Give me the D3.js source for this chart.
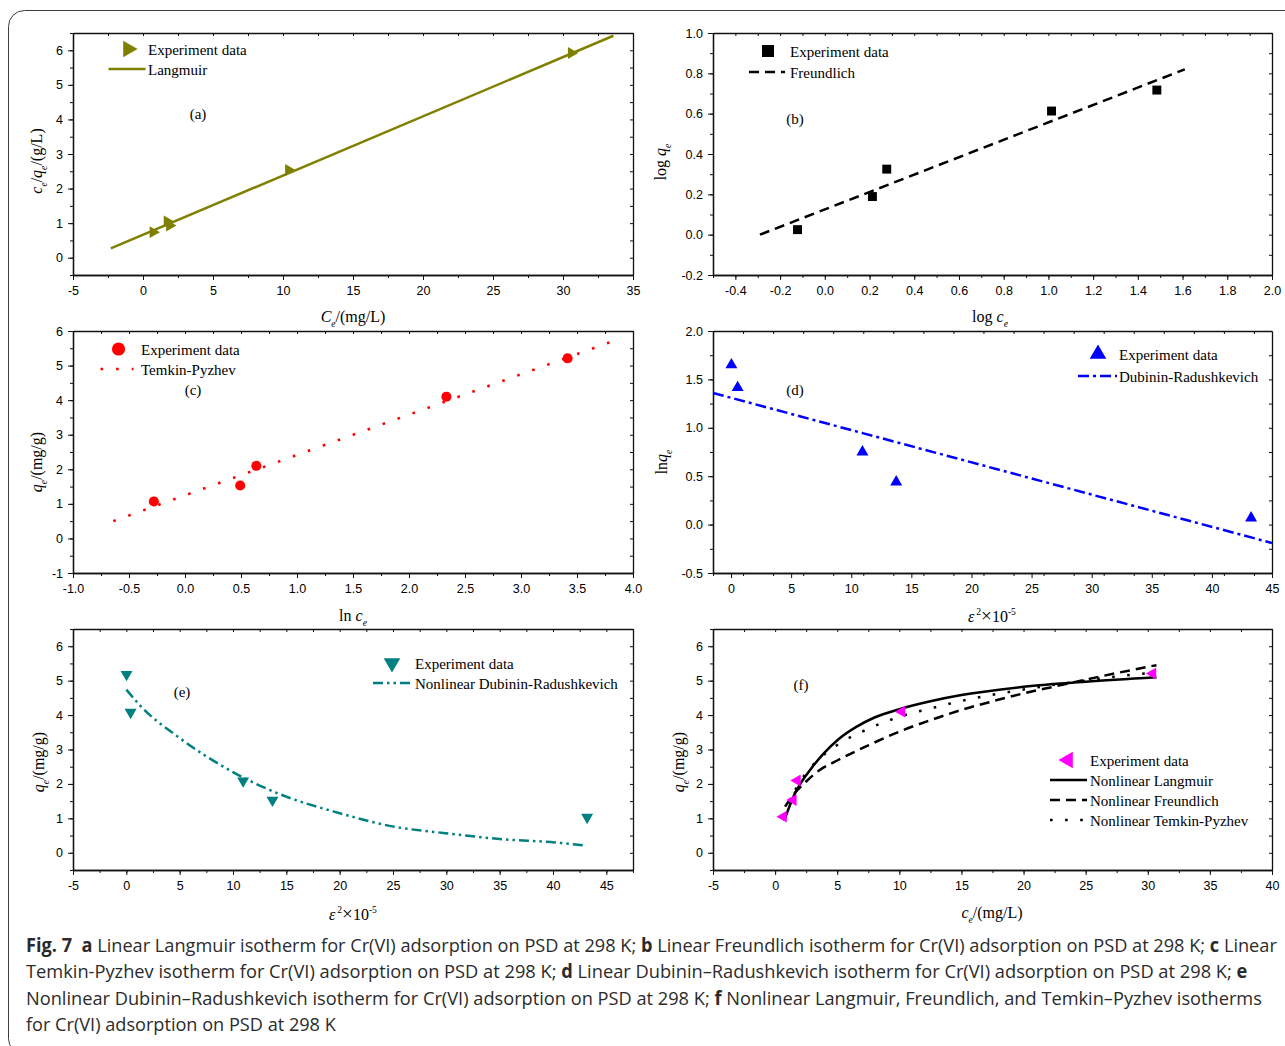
<!DOCTYPE html>
<html lang="en">
<head>
<meta charset="utf-8">
<title>Fig. 7 isotherms</title>
<script src="https://d3js.org/d3.v7.min.js"></script>
<style>
  body { margin: 0; background: #fff; }
</style>
</head>
<body>
<script>
// ---- data ----
// (a) linear Langmuir: ce vs ce/qe
const aCe = [0.72, 1.73, 1.9, 10.4, 30.6];
const aRatio = [0.74, 1.05, 0.93, 2.54, 5.92];
const aFitX = [-2.3, 33.6];
const aFitY = [0.27, 6.42];
const aXTicks = [-5, 0, 5, 10, 15, 20, 25, 30, 35];
const aYTicks = [0, 1, 2, 3, 4, 5, 6];

// (b) linear Freundlich: log ce vs log qe
const bLogCe = [-0.122, 0.213, 0.277, 1.014, 1.485];
const bLogQe = [0.025, 0.189, 0.325, 0.613, 0.717];
const bFitX = [-0.29, 1.61];
const bFitY = [0.0, 0.82];
const bXTicks = [-0.4, -0.2, 0.0, 0.2, 0.4, 0.6, 0.8, 1.0, 1.2, 1.4, 1.6, 1.8, 2.0];
const bYTicks = [-0.2, 0.0, 0.2, 0.4, 0.6, 0.8, 1.0];

// (c) linear Temkin-Pyzhev: ln ce vs qe
const cLnCe = [-0.278, 0.493, 0.637, 2.334, 3.416];
const cQe = [1.07, 1.53, 2.10, 4.10, 5.21];
const cFitX = [-0.64, 3.79];
const cFitY = [0.5, 5.67];
const cXTicks = [-1.0, -0.5, 0.0, 0.5, 1.0, 1.5, 2.0, 2.5, 3.0, 3.5, 4.0];
const cYTicks = [-1, 0, 1, 2, 3, 4, 5, 6];

// (d) linear Dubinin-Radushkevich: eps^2 vs ln qe
const dEps = [0.03, 0.55, 10.93, 13.74, 43.26];
const dLnQe = [1.65, 1.415, 0.75, 0.44, 0.068];
const dFitX = [-1.5, 45];
const dFitY = [1.36, -0.19];
const dXTicks = [0, 5, 10, 15, 20, 25, 30, 35, 40, 45];
const dYTicks = [-0.5, 0.0, 0.5, 1.0, 1.5, 2.0];

// (e) nonlinear Dubinin-Radushkevich
const eEps = [0.02, 0.4, 10.95, 13.7, 43.2];
const eQe = [5.18, 4.08, 2.09, 1.53, 1.03];
const eFitX = [0, 1.34, 4.84, 9.9, 14.17, 20, 25.07, 29.9, 35, 40.2, 42.8];
const eFitY = [4.74, 4.26, 3.37, 2.36, 1.73, 1.15, 0.76, 0.57, 0.40, 0.30, 0.22];
const eXTicks = [-5, 0, 5, 10, 15, 20, 25, 30, 35, 40, 45];
const eYTicks = [0, 1, 2, 3, 4, 5, 6];

// (f) nonlinear Langmuir, Freundlich, Temkin-Pyzhev
const fCe = [0.66, 1.45, 1.78, 10.2, 30.4];
const fQe = [1.05, 1.53, 2.10, 4.10, 5.21];
const fLangX = [0.72, 1.2, 1.6, 2.2, 2.8, 3.9, 5.1, 6.5, 8, 10, 12.5, 15, 20, 25, 30.7];
const fLangY = [0.93, 1.39, 1.73, 2.1, 2.4, 2.88, 3.3, 3.65, 3.93, 4.17, 4.4, 4.58, 4.82, 4.97, 5.1];
const fFreuX = [0.8, 1.5, 2.5, 3.5, 5, 7.5, 10, 12.5, 15, 17.5, 20, 22.5, 25, 27.5, 30.7];
const fFreuY = [1.34, 1.7, 2.07, 2.38, 2.68, 3.12, 3.52, 3.85, 4.15, 4.4, 4.63, 4.83, 5.03, 5.22, 5.45];
const fTemkX = [0.8, 1.5, 2.5, 3.5, 5, 7.5, 10, 12.5, 15, 17.5, 20, 22.5, 25, 27.5, 30.7];
const fTemkY = [1.0, 1.72, 2.32, 2.71, 3.13, 3.6, 3.95, 4.19, 4.41, 4.59, 4.74, 4.88, 5.0, 5.12, 5.24];
const fXTicks = [-5, 0, 5, 10, 15, 20, 25, 30, 35, 40];
const fYTicks = [0, 1, 2, 3, 4, 5, 6];

const SERIF = "'Liberation Serif', 'Times New Roman', serif";
const SANS = "'Liberation Sans', Arial, sans-serif";

const svg = d3.select("body").append("svg")
    .attr("width", 1285).attr("height", 1046)
    .style("font-family", SERIF);

svg.append("rect")
    .attr("x", 8.5).attr("y", 10.5)
    .attr("width", 1320).attr("height", 1044)
    .attr("rx", 16)
    .attr("fill", "none").attr("stroke", "#3c3c3c").attr("stroke-width", 1);

const fmtInt = d => String(d);
const fmt1 = d => d.toFixed(1);

// text with italic / sub / sup pieces
function rich(t, parts, size) {
    let shift = 0;
    parts.forEach(([s, k]) => {
        const ts = t.append("tspan").text(s);
        let target = 0;
        if (k.includes("sub")) { target = size * 0.32; ts.attr("font-size", size * 0.6); }
        if (k.includes("sup")) { target = -size * 0.42; ts.attr("font-size", size * 0.6); }
        if (k.includes("big")) ts.attr("font-size", size * 1.2);
        if (k.startsWith("i")) ts.attr("font-style", "italic");
        if (target !== shift) { ts.attr("dy", target - shift); shift = target; }
    });
}

function marker(g, kind, cx, cy, size, color) {
    const type = kind === "square" ? d3.symbolSquare
        : kind === "circle" ? d3.symbolCircle : d3.symbolTriangle;
    const rot = { right: 90, down: 180, left: -90, up: 0 }[kind] || 0;
    g.append("path")
        .attr("d", d3.symbol().type(type).size(size)())
        .attr("transform", `translate(${cx},${cy}) rotate(${rot})`)
        .attr("fill", color);
}

function styleAxis(sel) {
    sel.attr("font-family", SANS).attr("font-size", 12.5);
    sel.select(".domain").attr("stroke", "#111").attr("stroke-width", 1.3);
    sel.selectAll(".tick line").attr("stroke", "#111").attr("stroke-width", 1);
    sel.selectAll("text").attr("fill", "#000");
}

function panel(p) {
    const x = d3.scaleLinear().domain(p.xDomain).range(p.xr);
    const y = d3.scaleLinear().domain(p.yDomain).range([p.yr[1], p.yr[0]]);
    const g = svg.append("g");
    const [top, bottom] = p.yr;
    const [left, right] = p.xr;
    const xMinor = d3.range(p.xDomain[0], p.xDomain[1] + 1e-9, p.xMinor);
    const yMinor = d3.range(p.yDomain[0], p.yDomain[1] + 1e-9, p.yMinor);

    // bottom (outward)
    g.append("g").attr("transform", `translate(0,${bottom})`)
        .call(d3.axisBottom(x).tickValues(xMinor).tickSize(3).tickSizeOuter(0).tickFormat(""))
        .call(styleAxis);
    g.append("g").attr("transform", `translate(0,${bottom})`)
        .call(d3.axisBottom(x).tickValues(p.xTicks).tickSize(5).tickPadding(6).tickSizeOuter(0).tickFormat(p.xFmt))
        .call(styleAxis);
    // top (inward)
    g.append("g").attr("transform", `translate(0,${top})`)
        .call(d3.axisBottom(x).tickValues(xMinor).tickSize(3).tickSizeOuter(0).tickFormat(""))
        .call(styleAxis);
    // left (outward)
    g.append("g").attr("transform", `translate(${left},0)`)
        .call(d3.axisLeft(y).tickValues(yMinor).tickSize(3).tickSizeOuter(0).tickFormat(""))
        .call(styleAxis);
    g.append("g").attr("transform", `translate(${left},0)`)
        .call(d3.axisLeft(y).tickValues(p.yTicks).tickSize(5).tickPadding(5).tickSizeOuter(0).tickFormat(p.yFmt))
        .call(styleAxis);
    // right (inward)
    g.append("g").attr("transform", `translate(${right},0)`)
        .call(d3.axisLeft(y).tickValues(yMinor).tickSize(3).tickSizeOuter(0).tickFormat(""))
        .call(styleAxis);

    // fitted lines
    p.lines.forEach(l => {
        g.append("path")
            .datum(d3.zip(l.x, l.y))
            .attr("d", d3.line().x(d => x(d[0])).y(d => y(d[1])).curve(l.curve || d3.curveLinear))
            .attr("fill", "none")
            .attr("stroke", l.color)
            .attr("stroke-width", l.width || 2.5)
            .attr("stroke-dasharray", l.dash || null)
            .attr("stroke-linecap", l.cap || "butt");
    });
    // experiment points
    p.pts.x.forEach((v, i) => marker(g, p.pts.kind, x(v), y(p.pts.y[i]), p.pts.size, p.pts.color));

    // axis titles
    rich(g.append("text").attr("x", p.xTitle.x).attr("y", p.xTitle.y)
        .attr("text-anchor", "middle").attr("font-size", 16), p.xTitle.parts, 16);
    rich(g.append("text")
        .attr("transform", `translate(${p.yTitle.x},${p.yTitle.y}) rotate(-90)`)
        .attr("text-anchor", "middle").attr("font-size", 16), p.yTitle.parts, 16);

    // panel letter
    g.append("text").attr("x", p.tag.x).attr("y", p.tag.y)
        .attr("text-anchor", "middle").attr("font-size", 15).text(p.tag.text);

    // legend
    p.legend.forEach(it => {
        if (it.kind) marker(g, it.kind, it.sx, it.sy, it.size, it.color);
        else g.append("line")
            .attr("x1", it.sx - it.len / 2).attr("x2", it.sx + it.len / 2)
            .attr("y1", it.sy).attr("y2", it.sy)
            .attr("stroke", it.color).attr("stroke-width", 2.5)
            .attr("stroke-dasharray", it.dash || null);
        g.append("text").attr("x", it.tx).attr("y", it.sy + 5.5)
            .attr("font-size", 15).text(it.label);
    });
}

const L = [73, 633], R = [713, 1272];
const ROW1 = [33, 275], ROW2 = [331, 573], ROW3 = [629, 870];

const olive = "#808000", red = "#ff0000", blue = "#0000ff", teal = "#008080", pink = "#ff00ff";
const DASH = "10 6", DOT = "2.6 12.5", DASHDOT = "11 4 3 4", DASHDOTDOT = "10 4 2.5 4 2.5 4";
const epsTitle = [["ε", "i"], ["\u20092", "sup"], ["×", "big"], ["10", ""], ["-5", "sup"]];

panel({
    xr: L, yr: ROW1, xDomain: [-5, 35], yDomain: [-0.5, 6.5], xMinor: 2.5, yMinor: 0.5,
    xTicks: aXTicks, yTicks: aYTicks, xFmt: fmtInt, yFmt: fmtInt,
    lines: [{ x: aFitX, y: aFitY, color: olive }],
    pts: { x: aCe, y: aRatio, kind: "right", size: 62, color: olive },
    xTitle: { x: 353, y: 322, parts: [["C", "i"], ["e", "isub"], ["/(mg/L)", ""]] },
    yTitle: { x: 42, y: 161, parts: [["c", "i"], ["e", "isub"], ["/", ""], ["q", "i"], ["e", "isub"], ["/(g/L)", ""]] },
    tag: { x: 198, y: 119, text: "(a)" },
    legend: [
        { kind: "right", size: 120, color: olive, sx: 128, sy: 49, tx: 148, label: "Experiment data" },
        { len: 37, color: olive, sx: 127, sy: 69, tx: 148, label: "Langmuir" }
    ]
});

panel({
    xr: R, yr: ROW1, xDomain: [-0.5, 2.0], yDomain: [-0.2, 1.0], xMinor: 0.1, yMinor: 0.1,
    xTicks: bXTicks, yTicks: bYTicks, xFmt: fmt1, yFmt: fmt1,
    lines: [{ x: bFitX, y: bFitY, color: "#000", dash: DASH }],
    pts: { x: bLogCe, y: bLogQe, kind: "square", size: 80, color: "#000" },
    xTitle: { x: 990, y: 322, parts: [["log ", ""], ["c", "i"], ["e", "isub"]] },
    yTitle: { x: 666, y: 162, parts: [["log ", ""], ["q", "i"], ["e", "isub"]] },
    tag: { x: 795, y: 124, text: "(b)" },
    legend: [
        { kind: "square", size: 144, color: "#000", sx: 768, sy: 51, tx: 790, label: "Experiment data" },
        { len: 36, color: "#000", dash: DASH, sx: 767, sy: 72, tx: 790, label: "Freundlich" }
    ]
});

panel({
    xr: L, yr: ROW2, xDomain: [-1, 4], yDomain: [-1, 6], xMinor: 0.25, yMinor: 0.5,
    xTicks: cXTicks, yTicks: cYTicks, xFmt: fmt1, yFmt: fmtInt,
    lines: [{ x: cFitX, y: cFitY, color: red, dash: "2.6 13.3", width: 2.6 }],
    pts: { x: cLnCe, y: cQe, kind: "circle", size: 80, color: red },
    xTitle: { x: 353, y: 621, parts: [["ln ", ""], ["c", "i"], ["e", "isub"]] },
    yTitle: { x: 42, y: 462, parts: [["q", "i"], ["e", "isub"], ["/(mg/g)", ""]] },
    tag: { x: 193, y: 395, text: "(c)" },
    legend: [
        { kind: "circle", size: 135, color: red, sx: 118.5, sy: 349, tx: 141, label: "Experiment data" },
        { len: 33, color: red, dash: "2.6 13", sx: 117, sy: 369, tx: 141, label: "Temkin-Pyzhev" }
    ]
});

panel({
    xr: R, yr: ROW2, xDomain: [-1.5, 45], yDomain: [-0.5, 2.0], xMinor: 2.5, yMinor: 0.25,
    xTicks: dXTicks, yTicks: dYTicks, xFmt: fmtInt, yFmt: fmt1,
    lines: [{ x: dFitX, y: dFitY, color: blue, dash: DASHDOT }],
    pts: { x: dEps, y: dLnQe, kind: "up", size: 62, color: blue },
    xTitle: { x: 992, y: 622, parts: epsTitle },
    yTitle: { x: 667, y: 462, parts: [["ln", ""], ["q", "i"], ["e", "isub"]] },
    tag: { x: 795, y: 395, text: "(d)" },
    legend: [
        { kind: "up", size: 120, color: blue, sx: 1098, sy: 354, tx: 1119, label: "Experiment data" },
        { len: 39, color: blue, dash: DASHDOT, sx: 1097.5, sy: 376, tx: 1119, label: "Dubinin-Radushkevich" }
    ]
});

panel({
    xr: L, yr: ROW3, xDomain: [-5, 47.5], yDomain: [-0.5, 6.5], xMinor: 2.5, yMinor: 0.5,
    xTicks: eXTicks, yTicks: eYTicks, xFmt: fmtInt, yFmt: fmtInt,
    lines: [{ x: eFitX, y: eFitY, color: teal, dash: DASHDOTDOT, curve: d3.curveMonotoneX }],
    pts: { x: eEps, y: eQe, kind: "down", size: 62, color: teal },
    xTitle: { x: 353, y: 920, parts: epsTitle },
    yTitle: { x: 44, y: 762, parts: [["q", "i"], ["e", "isub"], ["/(mg/g)", ""]] },
    tag: { x: 182, y: 697, text: "(e)" },
    legend: [
        { kind: "down", size: 120, color: teal, sx: 392, sy: 663, tx: 415, label: "Experiment data" },
        { len: 39, color: teal, dash: DASHDOTDOT, sx: 392.5, sy: 683, tx: 415, label: "Nonlinear Dubinin-Radushkevich" }
    ]
});

panel({
    xr: R, yr: ROW3, xDomain: [-5, 40], yDomain: [-0.5, 6.5], xMinor: 2.5, yMinor: 0.5,
    xTicks: fXTicks, yTicks: fYTicks, xFmt: fmtInt, yFmt: fmtInt,
    lines: [
        { x: fFreuX, y: fFreuY, color: "#000", dash: DASH, curve: d3.curveMonotoneX },
        { x: fTemkX, y: fTemkY, color: "#000", dash: DOT, curve: d3.curveMonotoneX },
        { x: fLangX, y: fLangY, color: "#000", curve: d3.curveMonotoneX }
    ],
    pts: { x: fCe, y: fQe, kind: "left", size: 62, color: pink },
    xTitle: { x: 992, y: 918, parts: [["c", "i"], ["e", "isub"], ["/(mg/L)", ""]] },
    yTitle: { x: 684, y: 762, parts: [["q", "i"], ["e", "isub"], ["/(mg/g)", ""]] },
    tag: { x: 801, y: 690, text: "(f)" },
    legend: [
        { kind: "left", size: 120, color: pink, sx: 1068, sy: 760, tx: 1090, label: "Experiment data" },
        { len: 37, color: "#000", sx: 1068.5, sy: 780, tx: 1090, label: "Nonlinear Langmuir" },
        { len: 37, color: "#000", dash: DASH, sx: 1068.5, sy: 800, tx: 1090, label: "Nonlinear Freundlich" },
        { len: 37, color: "#000", dash: DOT, sx: 1068.5, sy: 820, tx: 1090, label: "Nonlinear Temkin-Pyzhev" }
    ]
});

// ---- caption ----
const capLines = [
    { y: 952, w: 1252, parts: [["Fig. 7", 1], ["\u00a0\u00a0", 0], ["a", 1], [" Linear Langmuir isotherm for Cr(VI) adsorption on PSD at 298 K; ", 0], ["b", 1], [" Linear Freundlich isotherm for Cr(VI) adsorption on PSD at 298 K; ", 0], ["c", 1], [" Linear", 0]] },
    { y: 978, w: 1222, parts: [["Temkin-Pyzhev isotherm for Cr(VI) adsorption on PSD at 298 K; ", 0], ["d", 1], [" Linear Dubinin\u2013Radushkevich isotherm for Cr(VI) adsorption on PSD at 298 K; ", 0], ["e", 1]] },
    { y: 1005, w: 1236, parts: [["Nonlinear Dubinin\u2013Radushkevich isotherm for Cr(VI) adsorption on PSD at 298 K; ", 0], ["f", 1], [" Nonlinear Langmuir, Freundlich, and Temkin\u2013Pyzhev isotherms", 0]] },
    { y: 1031, w: 310, parts: [["for Cr(VI) adsorption on PSD at 298 K", 0]] }
];
capLines.forEach(l => {
    const t = svg.append("text")
        .attr("x", 0).attr("y", 0)
        .attr("font-family", "'Open Sans', 'Noto Sans', sans-serif")
        .attr("font-size", 19)
        .attr("fill", "#2b2b2b");
    l.parts.forEach(([s, b]) => t.append("tspan").attr("font-weight", b ? "bold" : null).text(s));
    // squeeze each line horizontally to the width it has in the figure
    const k = l.w / t.node().getComputedTextLength();
    t.attr("transform", `translate(26,${l.y}) scale(${k},1)`);
});
</script>
</body>
</html>
